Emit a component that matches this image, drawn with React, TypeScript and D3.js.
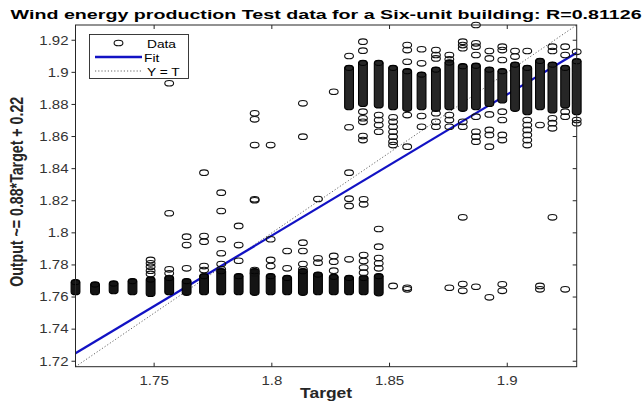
import React from "react";
import * as d3 from "d3";

const W = 644;
const H = 409;

// Regression summary
const rValue = 0.81126;
const fitSlope = 0.8795;
const fitIntercept = 0.2152;
const axisMin = 1.7166;
const axisMax = 1.9295;

const xTicks = [1.75, 1.8, 1.85, 1.9];
const yTicks = [1.72, 1.74, 1.76, 1.78, 1.8, 1.82, 1.84, 1.86, 1.88, 1.9, 1.92];

// Lower cluster: target columns, dense output band per column, and extra points
const lowerTargets = [1.7166, 1.7249, 1.7328, 1.7408, 1.7485, 1.7564, 1.7638, 1.7712, 1.7785, 1.7859, 1.7927, 1.7995, 1.8065, 1.8132, 1.8196, 1.8263, 1.8328, 1.839, 1.8454];
const lowerBandLow = [1.7632, 1.7632, 1.7638, 1.7632, 1.7621, 1.7632, 1.7628, 1.7632, 1.7632, 1.7632, 1.7628, 1.7632, 1.7632, 1.7628, 1.7632, 1.7632, 1.7632, 1.7632, 1.7625];
const lowerBandHigh = [1.7692, 1.7677, 1.7683, 1.7698, 1.7708, 1.7718, 1.7698, 1.7729, 1.776, 1.7729, 1.776, 1.7729, 1.7718, 1.776, 1.7739, 1.7725, 1.7718, 1.7718, 1.7729];
const lowerExtras = [
  [],
  [],
  [],
  [],
  [1.7744, 1.7764, 1.7789, 1.781, 1.7831],
  [1.7748, 1.7773, 1.8122, 1.8932],
  [1.7779, 1.7924, 1.7976],
  [1.7768, 1.7793, 1.7945, 1.798, 1.8375],
  [1.7773, 1.7806, 1.7873, 1.796, 1.8136, 1.825],
  [1.7826, 1.7924, 1.8043],
  [1.7748, 1.7768, 1.8203, 1.8209, 1.8547, 1.8707, 1.8745],
  [1.7793, 1.7831, 1.796, 1.8547],
  [1.7779, 1.7887],
  [1.7773, 1.7806, 1.7887, 1.7939, 1.8599, 1.8807],
  [1.7814, 1.7841, 1.8211],
  [1.7764, 1.782, 1.7856, 1.8879],
  [1.7835, 1.8168, 1.8213, 1.8375],
  [1.7752, 1.7784, 1.7824, 1.7862, 1.8178, 1.8209],
  [1.7779, 1.781, 1.7843, 1.7914, 1.8024],
];

// Upper cluster
const upperTargets = [1.8328, 1.8387, 1.8454, 1.8515, 1.8575, 1.8636, 1.8697, 1.8754, 1.8811, 1.8867, 1.8924, 1.8979, 1.9033, 1.9085, 1.9139, 1.9192, 1.9246, 1.9295];
const upperBandLow = [1.8784, 1.8805, 1.8795, 1.8784, 1.8774, 1.8784, 1.8774, 1.8784, 1.8774, 1.8784, 1.8805, 1.8826, 1.8774, 1.8753, 1.8784, 1.8764, 1.8795, 1.8753];
const upperBandHigh = [1.9027, 1.9058, 1.9058, 1.9027, 1.9006, 1.8985, 1.9016, 1.906, 1.9037, 1.904, 1.9016, 1.9006, 1.9047, 1.9027, 1.907, 1.9047, 1.9027, 1.9068];
const upperExtras = [
  [1.8658, 1.9102],
  [1.8578, 1.8603, 1.8692, 1.8714, 1.8755, 1.9135, 1.9191],
  [1.863, 1.8672, 1.8703, 1.8734],
  [1.8547, 1.8568, 1.8599, 1.863, 1.8661, 1.8692, 1.872],
  [1.8537, 1.8734, 1.9066, 1.9139, 1.917],
  [1.8661, 1.8728, 1.9056, 1.9144],
  [1.8661, 1.8692, 1.8745, 1.9087, 1.9108, 1.9139],
  [1.8661, 1.8703, 1.8734, 1.9081, 1.9108],
  [1.8661, 1.8692, 1.915, 1.917, 1.9191],
  [1.8568, 1.8599, 1.863, 1.8724, 1.9108, 1.916, 1.9181, 1.9295],
  [1.8537, 1.861, 1.8641, 1.8738, 1.9087, 1.9133],
  [1.8578, 1.861, 1.8703, 1.8755, 1.9077, 1.9139, 1.916],
  [1.9098, 1.9133],
  [1.8547, 1.8578, 1.861, 1.8641, 1.8672, 1.8703, 1.9133],
  [1.8672],
  [1.8651, 1.8683, 1.8714, 1.9133, 1.916],
  [1.8724, 1.8755, 1.9108, 1.916],
  [1.8683, 1.8703, 1.9128],
];

// Scattered points between the clusters
const strayTargets = [1.8515, 1.8575, 1.8575, 1.8754, 1.8811, 1.8811, 1.8811, 1.8867, 1.8924, 1.8979, 1.8979, 1.9139, 1.9139, 1.9192, 1.9246];
const strayOutputs = [1.7669, 1.7658, 1.7648, 1.7658, 1.7681, 1.7639, 1.8097, 1.7664, 1.7598, 1.7679, 1.7639, 1.7669, 1.7648, 1.8097, 1.7648];

const FONT = "'Liberation Sans', Arial, Helvetica, sans-serif";
const AXIS = "#262626";
const SX = 1.25; // horizontal stretch of the glyphs
const RX = 4.4;
const RY = 2.8;
const FIT_COLOR = "#1212c4";

const plot = { left: 75.5, right: 576.7, top: 25, bottom: 366.7 };

export default function App() {
  const x = d3.scaleLinear().domain([axisMin, axisMax]).range([plot.left, plot.right]);
  const y = d3.scaleLinear().domain([axisMin, axisMax]).range([plot.bottom, plot.top]);
  const line = d3.line<number>().x((t) => x(t)).y((t) => y(fitSlope * t + fitIntercept));
  const ident = d3.line<number>().x((t) => x(t)).y((t) => y(t));
  const ends = [axisMin, axisMax];
  const fmt2 = (v: number) => v.toPrecision(2);
  const yLabel = `Output ~= ${fmt2(fitSlope)}*Target + ${fmt2(fitIntercept)}`;

  const band = (t: number, lo: number, hi: number, fill: string, key: string) => {
    const cx = x(t);
    const yt = y(hi);
    const yb = y(lo);
    return (
      <g key={key}>
        <rect x={cx - RX} y={yt - RY} width={2 * RX} height={yb - yt + 2 * RY} rx={RX} ry={RY}
          fill={fill} stroke="#000" strokeWidth={1.1} />
        <ellipse cx={cx} cy={yt} rx={RX - 0.3} ry={RY - 0.4} fill="none" stroke="#000" strokeWidth={1} />
      </g>
    );
  };

  const dot = (t: number, v: number, key: string) => (
    <ellipse key={key} cx={x(t)} cy={y(v)} rx={RX} ry={RY} fill="none" stroke="#111" strokeWidth={1.1} />
  );

  const stretched = (tx: number, ty: number, s: string, size: number, anchor: string, weight = "normal", fill = "#333") => (
    <text transform={`translate(${tx},${ty}) scale(${SX},1)`} textAnchor={anchor} fontFamily={FONT}
      fontSize={size} fontWeight={weight} fill={fill}>{s}</text>
  );

  return (
    <svg width={W} height={H} style={{ position: "absolute", left: 0, top: 0, background: "#fff" }}>
      <rect x={0} y={0} width={W} height={H} fill="#fff" />
      {/* title */}
      <text x={(plot.left + plot.right) / 2} y={19} textAnchor="middle" fontFamily={FONT} fontSize={13.5}
        fontWeight="bold" fill="#000" textLength={631} lengthAdjust="spacingAndGlyphs">
        {`Wind energy production Test data for a Six-unit building: R=${rValue}`}
      </text>

      {/* reference and fit lines */}
      <path d={ident(ends) ?? ""} fill="none" stroke="#555" strokeWidth={0.9} strokeDasharray="1.2,2" />
      <path d={line(ends) ?? ""} fill="none" stroke={FIT_COLOR} strokeWidth={2.3} />

      {/* data */}
      {lowerTargets.map((t, i) => band(t, lowerBandLow[i], lowerBandHigh[i], "#141414", `lb${i}`))}
      {upperTargets.map((t, i) => band(t, upperBandLow[i], upperBandHigh[i], "#262626", `ub${i}`))}
      {lowerExtras.map((vals, i) => vals.map((v, j) => dot(lowerTargets[i], v, `le${i}-${j}`)))}
      {upperExtras.map((vals, i) => vals.map((v, j) => dot(upperTargets[i], v, `ue${i}-${j}`)))}
      {strayTargets.map((t, i) => dot(t, strayOutputs[i], `s${i}`))}

      {/* axes box and ticks */}
      <rect x={plot.left} y={plot.top} width={plot.right - plot.left} height={plot.bottom - plot.top}
        fill="none" stroke={AXIS} strokeWidth={1} />
      {xTicks.map((t) => (
        <g key={`xt${t}`}>
          <line x1={x(t)} x2={x(t)} y1={plot.bottom} y2={plot.bottom - 4} stroke={AXIS} />
          <line x1={x(t)} x2={x(t)} y1={plot.top} y2={plot.top + 4} stroke={AXIS} />
          {stretched(x(t), 384.5, String(t), 12, "middle")}
        </g>
      ))}
      {yTicks.map((t) => (
        <g key={`yt${t}`}>
          <line x1={plot.left - 4} x2={plot.left} y1={y(t)} y2={y(t)} stroke={AXIS} />
          <line x1={plot.right - 4} x2={plot.right} y1={y(t)} y2={y(t)} stroke={AXIS} />
          {stretched(68.5, y(t) + 4.3, String(t), 12, "end")}
        </g>
      ))}

      {/* axis labels */}
      {stretched((plot.left + plot.right) / 2, 398, "Target", 14, "middle", "bold", "#262626")}
      <text transform={`translate(23,${(plot.top + plot.bottom) / 2 - 4}) scale(${SX},1) rotate(-90)`}
        textAnchor="middle" fontFamily={FONT} fontSize={14} fontWeight="bold" fill="#262626"
        textLength={190} lengthAdjust="spacingAndGlyphs">{yLabel}</text>

      {/* legend */}
      <g>
        <rect x={89.5} y={34.5} width={99} height={44} fill="#fff" stroke={AXIS} strokeWidth={0.9} />
        <ellipse cx={118.5} cy={43} rx={RX} ry={RY} fill="none" stroke="#111" strokeWidth={1.1} />
        {stretched(147, 47.5, "Data", 11, "start", "normal", "#000")}
        <line x1={95} x2={142} y1={57} y2={57} stroke={FIT_COLOR} strokeWidth={2.3} />
        {stretched(144, 61.5, "Fit", 11, "start", "normal", "#000")}
        <line x1={95} x2={142} y1={71} y2={71} stroke="#555" strokeWidth={0.9} strokeDasharray="1.2,2" />
        {stretched(147, 75.5, "Y = T", 11, "start", "normal", "#000")}
      </g>
    </svg>
  );
}
